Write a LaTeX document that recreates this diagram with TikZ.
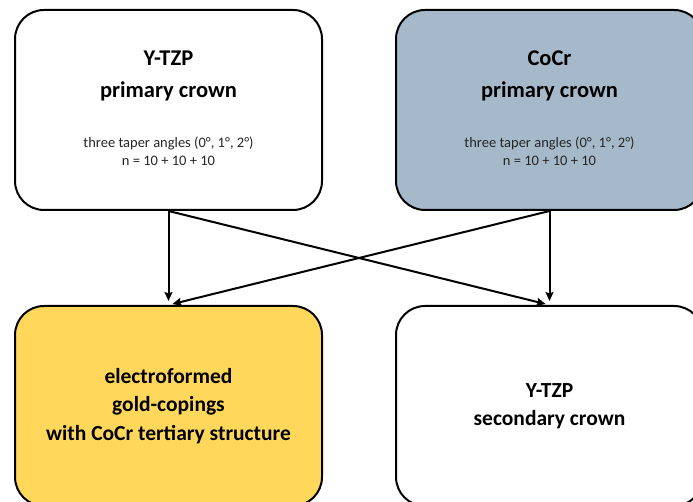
\documentclass[tikz,border=0pt]{standalone}
\usepackage{fontspec}
\setmainfont{Carlito}
\usetikzlibrary{arrows.meta}
\definecolor{bluegray}{HTML}{A6B9CB}
\definecolor{goldfill}{HTML}{FFD75A}
\begin{document}
\begin{tikzpicture}[x=1pt,y=1pt,
  box/.style={draw=black, line width=2pt, rounded corners=29pt, minimum width=307pt, minimum height=200pt, align=center, inner sep=0pt},
  titletext/.style={align=center, font=\fontsize{22.5}{32}\selectfont\bfseries, inner sep=0pt},
  smalltext/.style={align=center, font=\fontsize{14.5}{17.5}\selectfont, text=black!85, inner sep=0pt},
  bottomtext/.style={font=\fontsize{21.5}{28.5}\selectfont\bfseries},
  arr/.style={-{Stealth[length=9pt,width=8pt,inset=1.5pt]}, line width=2pt, shorten >=4pt}]
\useasboundingbox (0,0) rectangle (693,502);
\clip (0,0) rectangle (693,502);
\node[box, fill=white] (tl) at (168.5,392) {};
\node[box, fill=bluegray] (tr) at (549.5,392) {};
\node[box, fill=goldfill, bottomtext] (bl) at (168.5,96) {electroformed\\gold-copings\\with CoCr tertiary structure};
\node[box, fill=white, bottomtext] (br) at (549.5,96) {Y-TZP\\secondary crown};
\node[titletext] (tlt) at ([yshift=34pt]tl.center) {Y-TZP\\primary crown};
\node[smalltext] (tls) at ([yshift=-41.5pt]tl.center) {three taper angles (0°, 1°, 2°)\\n = 10 + 10 + 10};
\node[titletext] (trt) at ([yshift=34pt]tr.center) {CoCr\\primary crown};
\node[smalltext] (trs) at ([yshift=-41.5pt]tr.center) {three taper angles (0°, 1°, 2°)\\n = 10 + 10 + 10};
\draw[arr] (tl.south) -- (bl.north);
\draw[arr] (tl.south) -- (br.north);
\draw[arr] (tr.south) -- (bl.north);
\draw[arr] (tr.south) -- (br.north);
\end{tikzpicture}
\end{document}
